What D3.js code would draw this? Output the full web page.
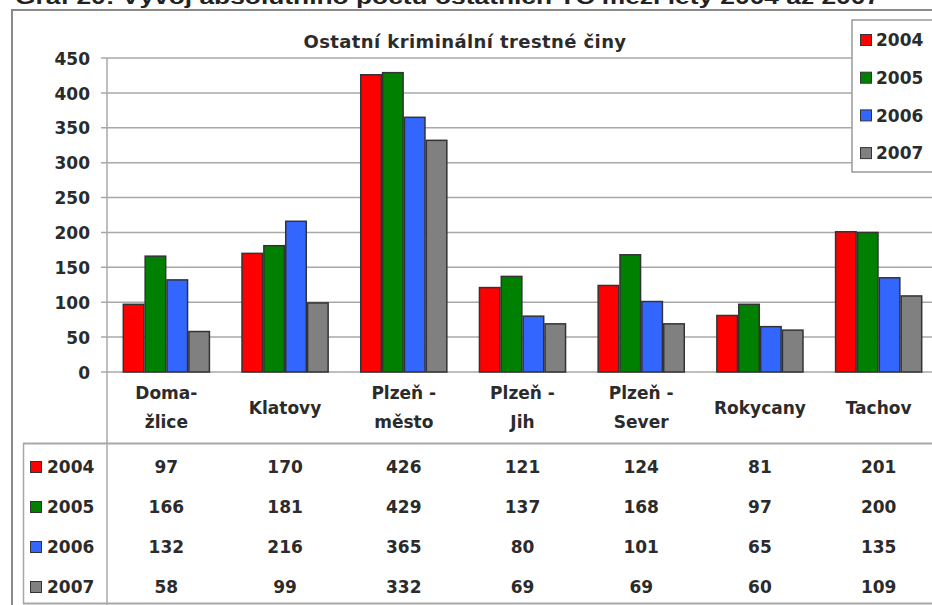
<!DOCTYPE html>
<html>
<head>
<meta charset="utf-8">
<script src="https://cdn.jsdelivr.net/npm/d3@7"></script>
<style>
body{margin:0;background:#fff;}
text{font-family:"DejaVu Sans",Verdana,sans-serif;font-weight:bold;fill:#2b2b2b;}
</style>
</head>
<body>
<svg id="chart"></svg>
<script>
var categories = ["Doma-|žlice","Klatovy","Plzeň -|město","Plzeň -|Jih","Plzeň -|Sever","Rokycany","Tachov"];
var years = ["2004","2005","2006","2007"];
var v2004 = [97,170,426,121,124,81,201];
var v2005 = [166,181,429,137,168,97,200];
var v2006 = [132,216,365,80,101,65,135];
var v2007 = [58,99,332,69,69,60,109];
var yTicks = [0,50,100,150,200,250,300,350,400,450];
var colors = ["#ff0000","#008000","#3366ff","#808080"];

var series = [v2004,v2005,v2006,v2007];
var width = 932, height = 605;
var plot = {left:107, right:938, top:58, bot:372};
var fs = "17px";

var svg = d3.select("#chart").attr("width",width).attr("height",height);

// page caption, clipped at top like the source
svg.append("text")
   .attr("x",15).attr("y",4)
   .attr("textLength",865).attr("lengthAdjust","spacingAndGlyphs")
   .style("font-family","'Liberation Sans',Arial,sans-serif")
   .style("font-size","21px").style("fill","#222")
   .text("Graf 20: Vývoj absolutního počtu ostatních TČ mezi léty 2004 až 2007");

// outer frame
svg.append("rect")
   .attr("x",12).attr("y",10).attr("width",940).attr("height",620)
   .attr("fill","none").attr("stroke","#8a8a8a").attr("stroke-width",2);

var x0 = d3.scaleBand().domain(d3.range(categories.length)).range([plot.left,plot.right]);
var groupPad = 16.3;
var x1 = d3.scaleBand().domain(d3.range(years.length))
           .range([0,x0.bandwidth()-2*groupPad]).paddingInner(0.06);
var y = d3.scaleLinear().domain([0,450]).range([plot.bot,plot.top]);

// gridlines
svg.append("g").selectAll("line").data(yTicks).enter().append("line")
   .attr("x1",plot.left-6).attr("x2",width)
   .attr("y1",function(d){return y(d);}).attr("y2",function(d){return y(d);})
   .attr("stroke","#a8a8a8").attr("stroke-width",1.5);

var yAxis = d3.axisLeft(y).tickValues(yTicks).tickSize(0).tickPadding(17);
var ga = svg.append("g").attr("transform","translate("+plot.left+",0)").call(yAxis);
ga.select(".domain").remove();
ga.attr("font-family",null).attr("font-size",null);
ga.selectAll("text").style("font-size",fs).attr("dy","0.36em").attr("fill",null);

// axis line down through table
svg.append("line")
   .attr("x1",plot.left).attr("x2",plot.left).attr("y1",plot.top).attr("y2",height)
   .attr("stroke","#a8a8a8").attr("stroke-width",1.5);

// bars
var groups = svg.append("g").selectAll("g").data(categories).enter().append("g")
   .attr("transform",function(d,i){return "translate("+(x0(i)+groupPad)+",0)";});
groups.selectAll("rect")
   .data(function(d,i){return series.map(function(s,j){return {j:j,v:s[i]};});})
   .enter().append("rect")
   .attr("x",function(d){return x1(d.j);})
   .attr("width",x1.bandwidth())
   .attr("y",function(d){return y(d.v);})
   .attr("height",function(d){return y(0)-y(d.v);})
   .attr("fill",function(d){return colors[d.j];})
   .attr("stroke","#333").attr("stroke-width",1.5);

// inner title
svg.append("text")
   .attr("x",465).attr("y",42).attr("dy","0.36em").attr("text-anchor","middle")
   .style("font-size","18px").style("letter-spacing","0.4px")
   .text("Ostatní kriminální trestné činy");

// legend box on the right
var lg = svg.append("g");
lg.append("rect").attr("x",852).attr("y",20).attr("width",100).attr("height",152)
  .attr("fill","#fff").attr("stroke","#9a9a9a").attr("stroke-width",1.5);
years.forEach(function(yr,j){
  var cy = 40+j*37.7;
  lg.append("rect").attr("x",860.5).attr("y",cy-5.5).attr("width",11).attr("height",11)
    .attr("fill",colors[j]).attr("stroke","#333").attr("stroke-width",1);
  lg.append("text").attr("x",876).attr("y",cy).attr("dy","0.36em")
    .style("font-size",fs).text(yr);
});

// category labels
categories.forEach(function(c,i){
  var lines = c.split("|");
  var cx = x0(i)+x0.bandwidth()/2;
  var t = svg.append("text").attr("text-anchor","middle").style("font-size",fs);
  if(lines.length===1){
    t.append("tspan").attr("x",cx).attr("y",408).attr("dy","0.36em").text(lines[0]);
  } else {
    lines.forEach(function(l,k){
      t.append("tspan").attr("x",cx).attr("y",393+k*29).attr("dy","0.36em").text(l);
    });
  }
});

// data table
svg.append("line").attr("x1",23).attr("x2",width).attr("y1",443.5).attr("y2",443.5)
   .attr("stroke","#a8a8a8").attr("stroke-width",2);
svg.append("line").attr("x1",23).attr("x2",width).attr("y1",603.5).attr("y2",603.5)
   .attr("stroke","#a8a8a8").attr("stroke-width",2);
svg.append("line").attr("x1",23.5).attr("x2",23.5).attr("y1",443).attr("y2",604)
   .attr("stroke","#a8a8a8").attr("stroke-width",1.5);

var rowY = d3.scaleBand().domain(d3.range(years.length)).range([447,607]);
years.forEach(function(yr,j){
  var cy = rowY(j)+rowY.bandwidth()/2;
  svg.append("rect").attr("x",30.5).attr("y",cy-5.5).attr("width",11).attr("height",11)
     .attr("fill",colors[j]).attr("stroke","#333").attr("stroke-width",1);
  svg.append("text").attr("x",47).attr("y",cy).attr("dy","0.36em")
     .style("font-size",fs).text(yr);
  series[j].forEach(function(v,i){
    svg.append("text").attr("x",x0(i)+x0.bandwidth()/2).attr("y",cy).attr("dy","0.36em")
       .attr("text-anchor","middle").style("font-size",fs).text(v);
  });
});
</script>
</body>
</html>
